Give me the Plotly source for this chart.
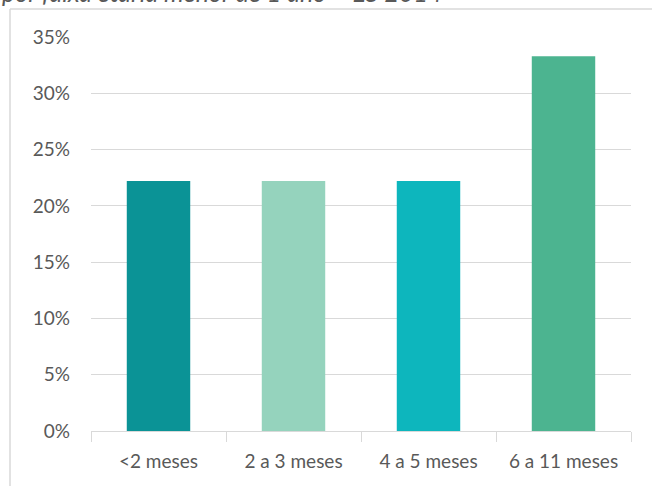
import plotly.graph_objects as go

categories = ["<2 meses", "2 a 3 meses", "4 a 5 meses", "6 a 11 meses"]
values = [22.2, 22.2, 22.2, 33.3]
colors = ["#0b9396", "#95d3bd", "#0db6bd", "#4cb490"]
tick_vals = [0, 5, 10, 15, 20, 25, 30, 35]
tick_text = ["0%", "5%", "10%", "15%", "20%", "25%", "30%", "35%"]
title_text = "por faixa etária menor de 1 ano – ES 2014"

W, H = 652, 486
L, R, T, B = 91, 21, 37, 55
pw, ph = W - L - R, H - T - B

FONT = "Lato, sans-serif"

fig = go.Figure(go.Bar(
    x=categories, y=values, marker=dict(color=colors, line=dict(width=0)),
    width=0.47,
))

fig.update_layout(
    width=W, height=H,
    margin=dict(l=L, r=R, t=T, b=B, autoexpand=False),
    plot_bgcolor="white", paper_bgcolor="white",
    showlegend=False,
    font=dict(family=FONT, size=19, color="#595959"),
    xaxis=dict(
        showgrid=False, showline=True, linecolor="#d9d9d9", linewidth=1,
        ticks="outside", tickson="boundaries", ticklen=10, tickcolor="#d9d9d9",
        ticklabelstandoff=13,
        tickfont=dict(family=FONT, size=19, color="#595959"),
        range=[-0.5, 3.5],
    ),
    yaxis=dict(
        range=[0, 35], tickvals=tick_vals, ticktext=tick_text,
        showgrid=True, gridcolor="#d9d9d9", gridwidth=1,
        zeroline=False, showline=False, ticks="", ticklen=0,
        ticklabelstandoff=20,
        tickfont=dict(family=FONT, size=19, color="#595959"),
    ),
    shapes=[
        dict(type="line", xref="paper", yref="paper", layer="above",
             x0=(10 - L) / pw, x1=(10 - L) / pw, y0=-0.3, y1=(H - B - 9) / ph,
             line=dict(color="#d9d9d9", width=1.5)),
        dict(type="line", xref="paper", yref="paper", layer="above",
             x0=(10 - L) / pw, x1=1.2, y0=(H - B - 9) / ph, y1=(H - B - 9) / ph,
             line=dict(color="#d9d9d9", width=1.5)),
    ],
    annotations=[
        dict(text="<i>" + title_text + "</i>", xref="paper", yref="paper",
             x=(0 - L) / pw, y=(H - B - 9) / ph, xanchor="left", yanchor="bottom",
             showarrow=False, font=dict(family=FONT, size=25, color="#595959")),
    ],
)

fig.write_html("out.html", config={"displayModeBar": False},
               post_script="document.body.style.margin='0';document.body.style.overflow='hidden';")
